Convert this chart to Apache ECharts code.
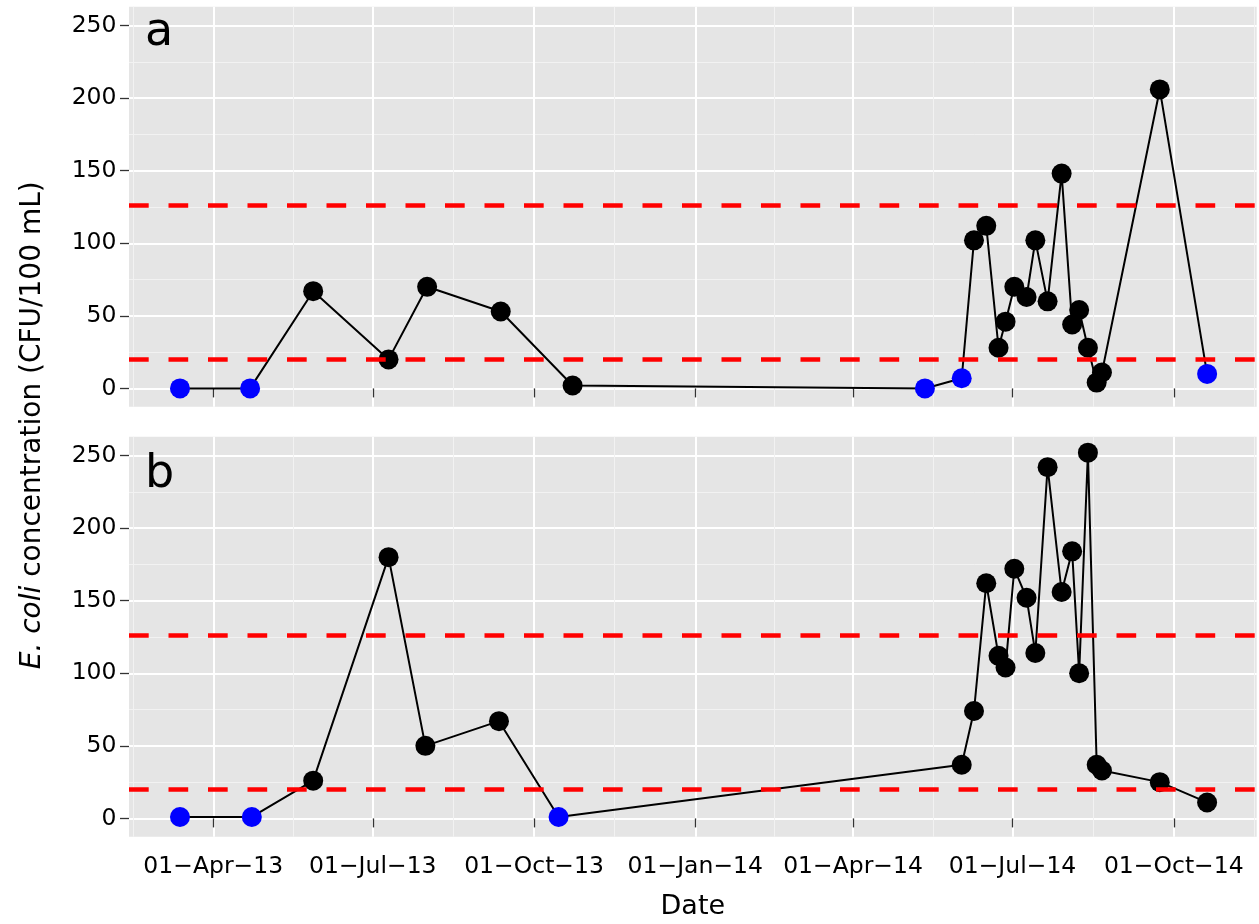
<!DOCTYPE html>
<html>
<head>
<meta charset="utf-8">
<script src="https://cdn.jsdelivr.net/npm/echarts@6/dist/echarts.min.js"></script>
<style>
html,body{margin:0;padding:0;background:#fff;}
#chart{width:1259px;height:924px;}
</style>
</head>
<body>
<div id="chart"></div>
<script>
// ---- Data ----
const datesA = ['2013-03-13','2013-04-22','2013-05-28','2013-07-10','2013-08-01','2013-09-12','2013-10-23',
  '2014-05-12','2014-06-02','2014-06-09','2014-06-16','2014-06-23','2014-06-27','2014-07-02','2014-07-09',
  '2014-07-14','2014-07-21','2014-07-29','2014-08-04','2014-08-08','2014-08-13','2014-08-18','2014-08-21',
  '2014-09-23','2014-10-20'];
const valuesA = [0,0,67,20,70,53,2,0,7,102,112,28,46,70,63,102,60,148,44,54,28,4,11,206,10];
const nonDetectA = [1,1,0,0,0,0,0,1,1,0,0,0,0,0,0,0,0,0,0,0,0,0,0,0,1];

const datesB = ['2013-03-13','2013-04-23','2013-05-28','2013-07-10','2013-07-31','2013-09-11','2013-10-15',
  '2014-06-02','2014-06-09','2014-06-16','2014-06-23','2014-06-27','2014-07-02','2014-07-09','2014-07-14',
  '2014-07-21','2014-07-29','2014-08-04','2014-08-08','2014-08-13','2014-08-18','2014-08-21','2014-09-23',
  '2014-10-20'];
const valuesB = [1,1,26,180,50,67,1,37,74,162,112,104,172,152,114,242,156,184,100,252,37,33,25,11];
const nonDetectB = [1,1,0,0,0,0,1,0,0,0,0,0,0,0,0,0,0,0,0,0,0,0,0,0];

const thresholds = [126, 20];
const panelLabels = ['a', 'b'];

const xTickDates = ['2013-04-01','2013-07-01','2013-10-01','2014-01-01','2014-04-01','2014-07-01','2014-10-01'];
const xTickLabels = ['01\u2212Apr\u221213','01\u2212Jul\u221213','01\u2212Oct\u221213','01\u2212Jan\u221214',
  '01\u2212Apr\u221214','01\u2212Jul\u221214','01\u2212Oct\u221214'];
const yTicks = [0, 50, 100, 150, 200, 250];
const yMinorTicks = [25, 75, 125, 175, 225];
const yTitleItalic = 'E. coli';
const yTitleRest = ' concentration (CFU/100 mL)';
const xTitle = 'Date';

// ---- helpers ----
const ts = s => Date.parse(s + 'T00:00:00Z');
const xTickVals = xTickDates.map(ts);
const xMinorVals = [];
{
  const n = xTickVals.length;
  const ext = [xTickVals[0] - (xTickVals[1] - xTickVals[0])].concat(xTickVals, [xTickVals[n-1] + (xTickVals[n-1] - xTickVals[n-2])]);
  for (let i = 0; i < ext.length - 1; i++) xMinorVals.push((ext[i] + ext[i+1]) / 2);
}
const xMin = Date.UTC(2013, 1, 11, 22);
const xMax = Date.UTC(2014, 10, 17, 7);
const yMin = -12.6, yMax = 263;

const FONT = 'DejaVu Sans';
const TXT = '#000000';

const gridLeft = 129, gridWidth = 1127.7, gridH = 400;
const gridTops = [6.7, 436.7];

function buildData(dates, vals, nd) {
  return dates.map((d, i) => ({
    value: [ts(d), vals[i]],
    itemStyle: { color: nd[i] ? '#0000FF' : '#000000' }
  }));
}

const chart = echarts.init(document.getElementById('chart'), null, { renderer: 'canvas' });

const grids = [], xAxes = [], yAxes = [], series = [];
const panels = [
  { dates: datesA, vals: valuesA, nd: nonDetectA },
  { dates: datesB, vals: valuesB, nd: nonDetectB }
];

panels.forEach((p, i) => {
  grids.push({ left: gridLeft, top: gridTops[i], width: gridWidth, height: gridH,
    show: true, backgroundColor: '#E5E5E5', borderWidth: 0 });
  // major x axis
  xAxes.push({
    type: 'value', gridIndex: i, min: xMin, max: xMax, position: 'bottom',
    axisLine: { show: false },
    axisTick: { show: true, customValues: xTickVals, length: 9, lineStyle: { color: '#333', width: 1.3 } },
    axisLabel: { show: i === 1, customValues: xTickVals, margin: 18, fontFamily: FONT, fontSize: 23.5, color: TXT,
      formatter: v => { const k = xTickVals.indexOf(v); return k >= 0 ? xTickLabels[k] : ''; } },
    splitLine: { show: true, lineStyle: { color: '#FFFFFF', width: 2 } },
    name: i === 1 ? xTitle : '', nameLocation: 'middle', nameGap: 57,
    nameTextStyle: { fontFamily: FONT, fontSize: 27, color: TXT }
  });
  // minor x axis (grid lines only)
  xAxes.push({
    type: 'value', gridIndex: i, min: xMin, max: xMax, position: 'top',
    axisLine: { show: false },
    axisTick: { show: false, customValues: xMinorVals },
    axisLabel: { show: false, customValues: xMinorVals },
    splitLine: { show: true, lineStyle: { color: '#F2F2F2', width: 1 } }
  });
  // major y axis
  yAxes.push({
    type: 'value', gridIndex: i, min: yMin, max: yMax, position: 'left',
    axisLine: { show: false },
    axisTick: { show: true, customValues: yTicks, length: 9, lineStyle: { color: '#333', width: 1.3 } },
    axisLabel: { show: true, customValues: yTicks, margin: 12.5, fontFamily: FONT, fontSize: 23.5, color: TXT },
    splitLine: { show: true, lineStyle: { color: '#FFFFFF', width: 2 } }
  });
  // minor y axis
  yAxes.push({
    type: 'value', gridIndex: i, min: yMin, max: yMax, position: 'right',
    axisLine: { show: false },
    axisTick: { show: false, customValues: yMinorTicks },
    axisLabel: { show: false, customValues: yMinorTicks },
    splitLine: { show: true, lineStyle: { color: '#F2F2F2', width: 1 } }
  });

  series.push({
    type: 'line', xAxisIndex: 2 * i, yAxisIndex: 2 * i,
    data: buildData(p.dates, p.vals, p.nd),
    symbol: 'circle', symbolSize: 20,
    lineStyle: { color: '#000', width: 2 },
    itemStyle: { borderWidth: 0 },
    silent: true, animation: false, z: 3
  });
  series.push({
    type: 'line', xAxisIndex: 2 * i, yAxisIndex: 2 * i, data: [],
    silent: true, animation: false, z: 5,
    markLine: {
      silent: true, symbol: ['none', 'none'], animation: false,
      label: { show: false },
      lineStyle: { color: '#FF0000', width: 4.5, type: [19.7, 19.8] },
      emphasis: { disabled: true },
      data: thresholds.map(t => ({ yAxis: t }))
    }
  });
});

const option = {
  backgroundColor: '#FFFFFF',
  animation: false,
  grid: grids, xAxis: xAxes, yAxis: yAxes, series: series,
  graphic: [
    { type: 'text', left: 145, top: 10, z: 10, silent: true,
      style: { text: panelLabels[0], fontFamily: FONT, fontSize: 46, fill: '#000' } },
    { type: 'text', left: 145, top: 451.7, z: 10, silent: true,
      style: { text: panelLabels[1], fontFamily: FONT, fontSize: 46, fill: '#000' } },
    { type: 'text', x: 33.1, y: 425.3, rotation: Math.PI / 2, z: 10, silent: true,
      style: {
        text: '{i|' + yTitleItalic + '}{n|' + yTitleRest + '}',
        align: 'center', verticalAlign: 'middle',
        fontFamily: FONT, fontSize: 28, fill: TXT,
        rich: {
          i: { fontFamily: FONT, fontSize: 28, fontStyle: 'italic', fill: TXT },
          n: { fontFamily: FONT, fontSize: 28, fill: TXT }
        }
      } }
  ]
};
chart.setOption(option);
</script>
</body>
</html>
